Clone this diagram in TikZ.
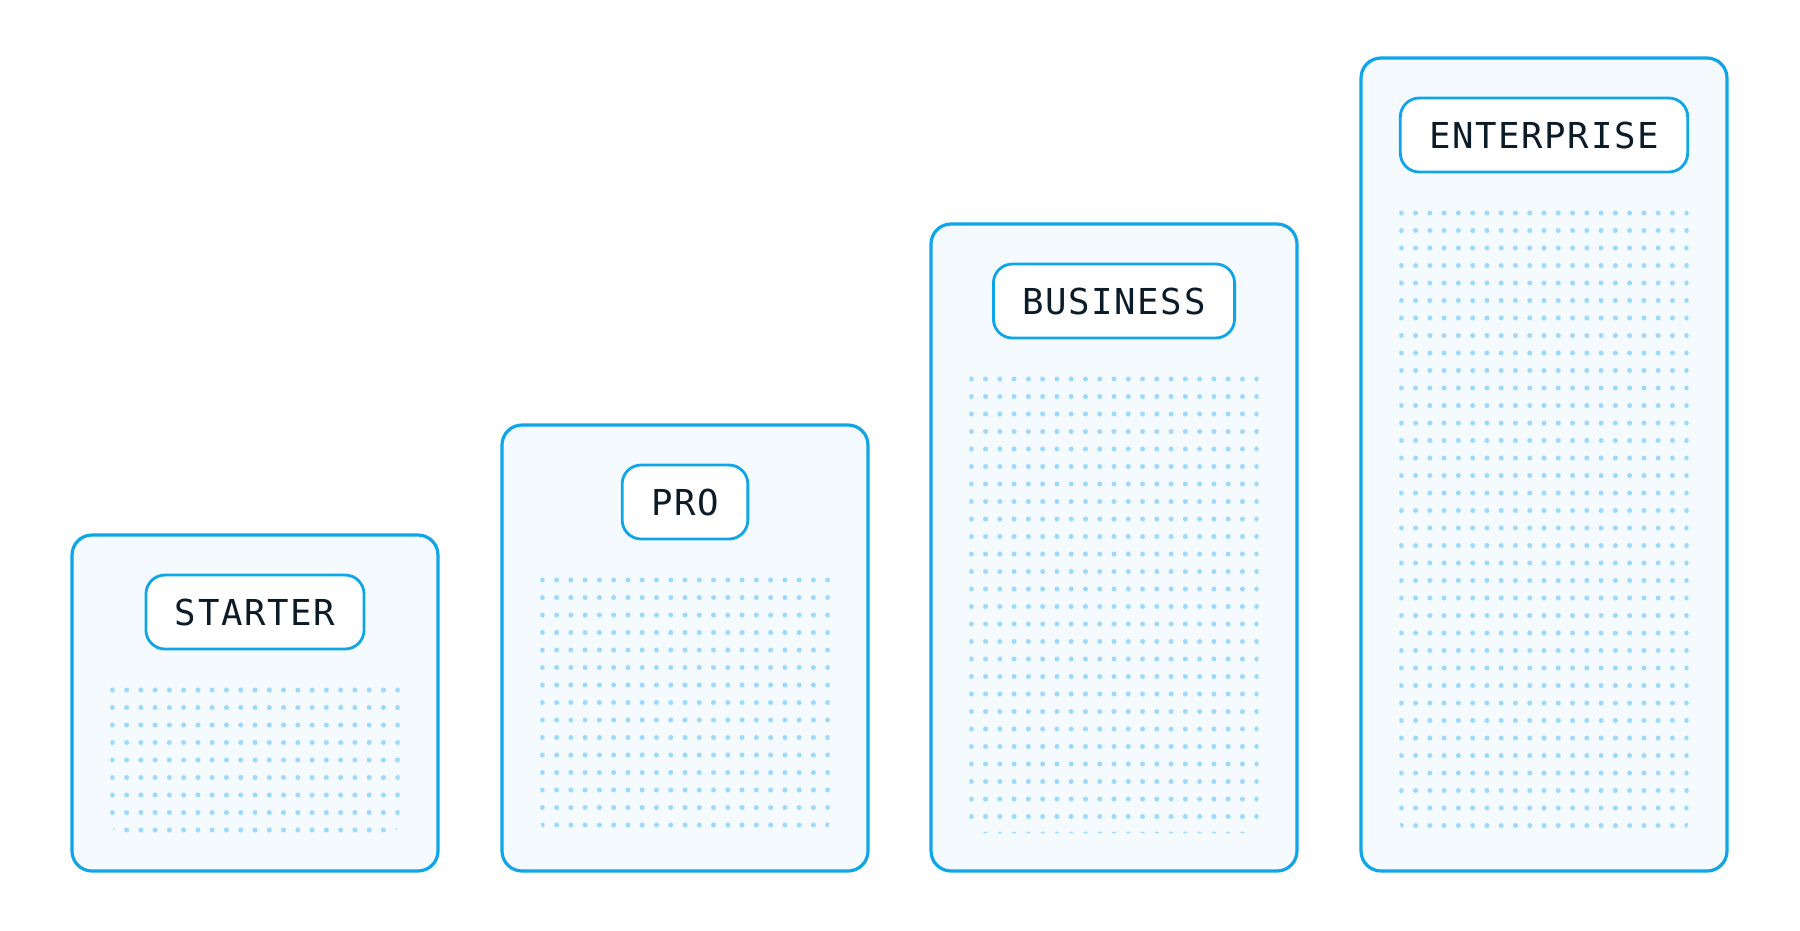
\documentclass[tikz,border=0pt]{standalone}
\usepackage{fontspec}
\newfontfamily\tiermono[LetterSpace=4.5]{DejaVu Sans Mono}
\definecolor{tierblue}{HTML}{0EA5E9}
\definecolor{cardfill}{HTML}{F4FAFD}
\definecolor{dotblue}{HTML}{9BDAFC}
\definecolor{inkdark}{HTML}{0B1B28}

\tikzset{
  card/.style={draw=tierblue, fill=cardfill, line width=3.2pt, rounded corners=20pt},
  pill/.style={draw=tierblue, fill=white, line width=2.8pt, rounded corners=19pt,
    minimum height=74pt, inner xsep=29pt, inner ysep=0pt, text=inkdark,
    font=\tiermono\fontsize{35.7}{40}\selectfont},
  dot/.style={fill=dotblue},
}

\begin{document}
\begin{tikzpicture}[x=1pt, y=-1pt]
  \fill[white] (0,0) rectangle (1800,930);
  \useasboundingbox (0,0) rectangle (1800,930);

  % Tier cards: name / left / top / text
  \foreach \tier/\xl/\yt/\tiername in {starter/72/535/STARTER, pro/502/425/PRO,
      business/931/224/BUSINESS, enterprise/1361/58/ENTERPRISE} {
    % Card
    \draw[card] (\xl,\yt) rectangle ({\xl+366},871);

    % Dot grid, clipped to a rounded box
    \begin{scope}
      \clip[rounded corners=12pt] ({\xl+38.3},{\yt+120}) rectangle ({\xl+366-38.3},833);
      \pgfmathtruncatemacro\nrows{(840-\yt-155)/17.5}
      \foreach \r in {0,...,\nrows}
        \foreach \c in {0,...,20}
          \fill[dot] ({\xl+40.3+14.27*\c},{\yt+155+17.5*\r}) circle (2.5pt);
    \end{scope}

    % Label
    \node[pill] (\tier) at ({\xl+183},{\yt+77}) {\tiername};
  }
\end{tikzpicture}
\end{document}
